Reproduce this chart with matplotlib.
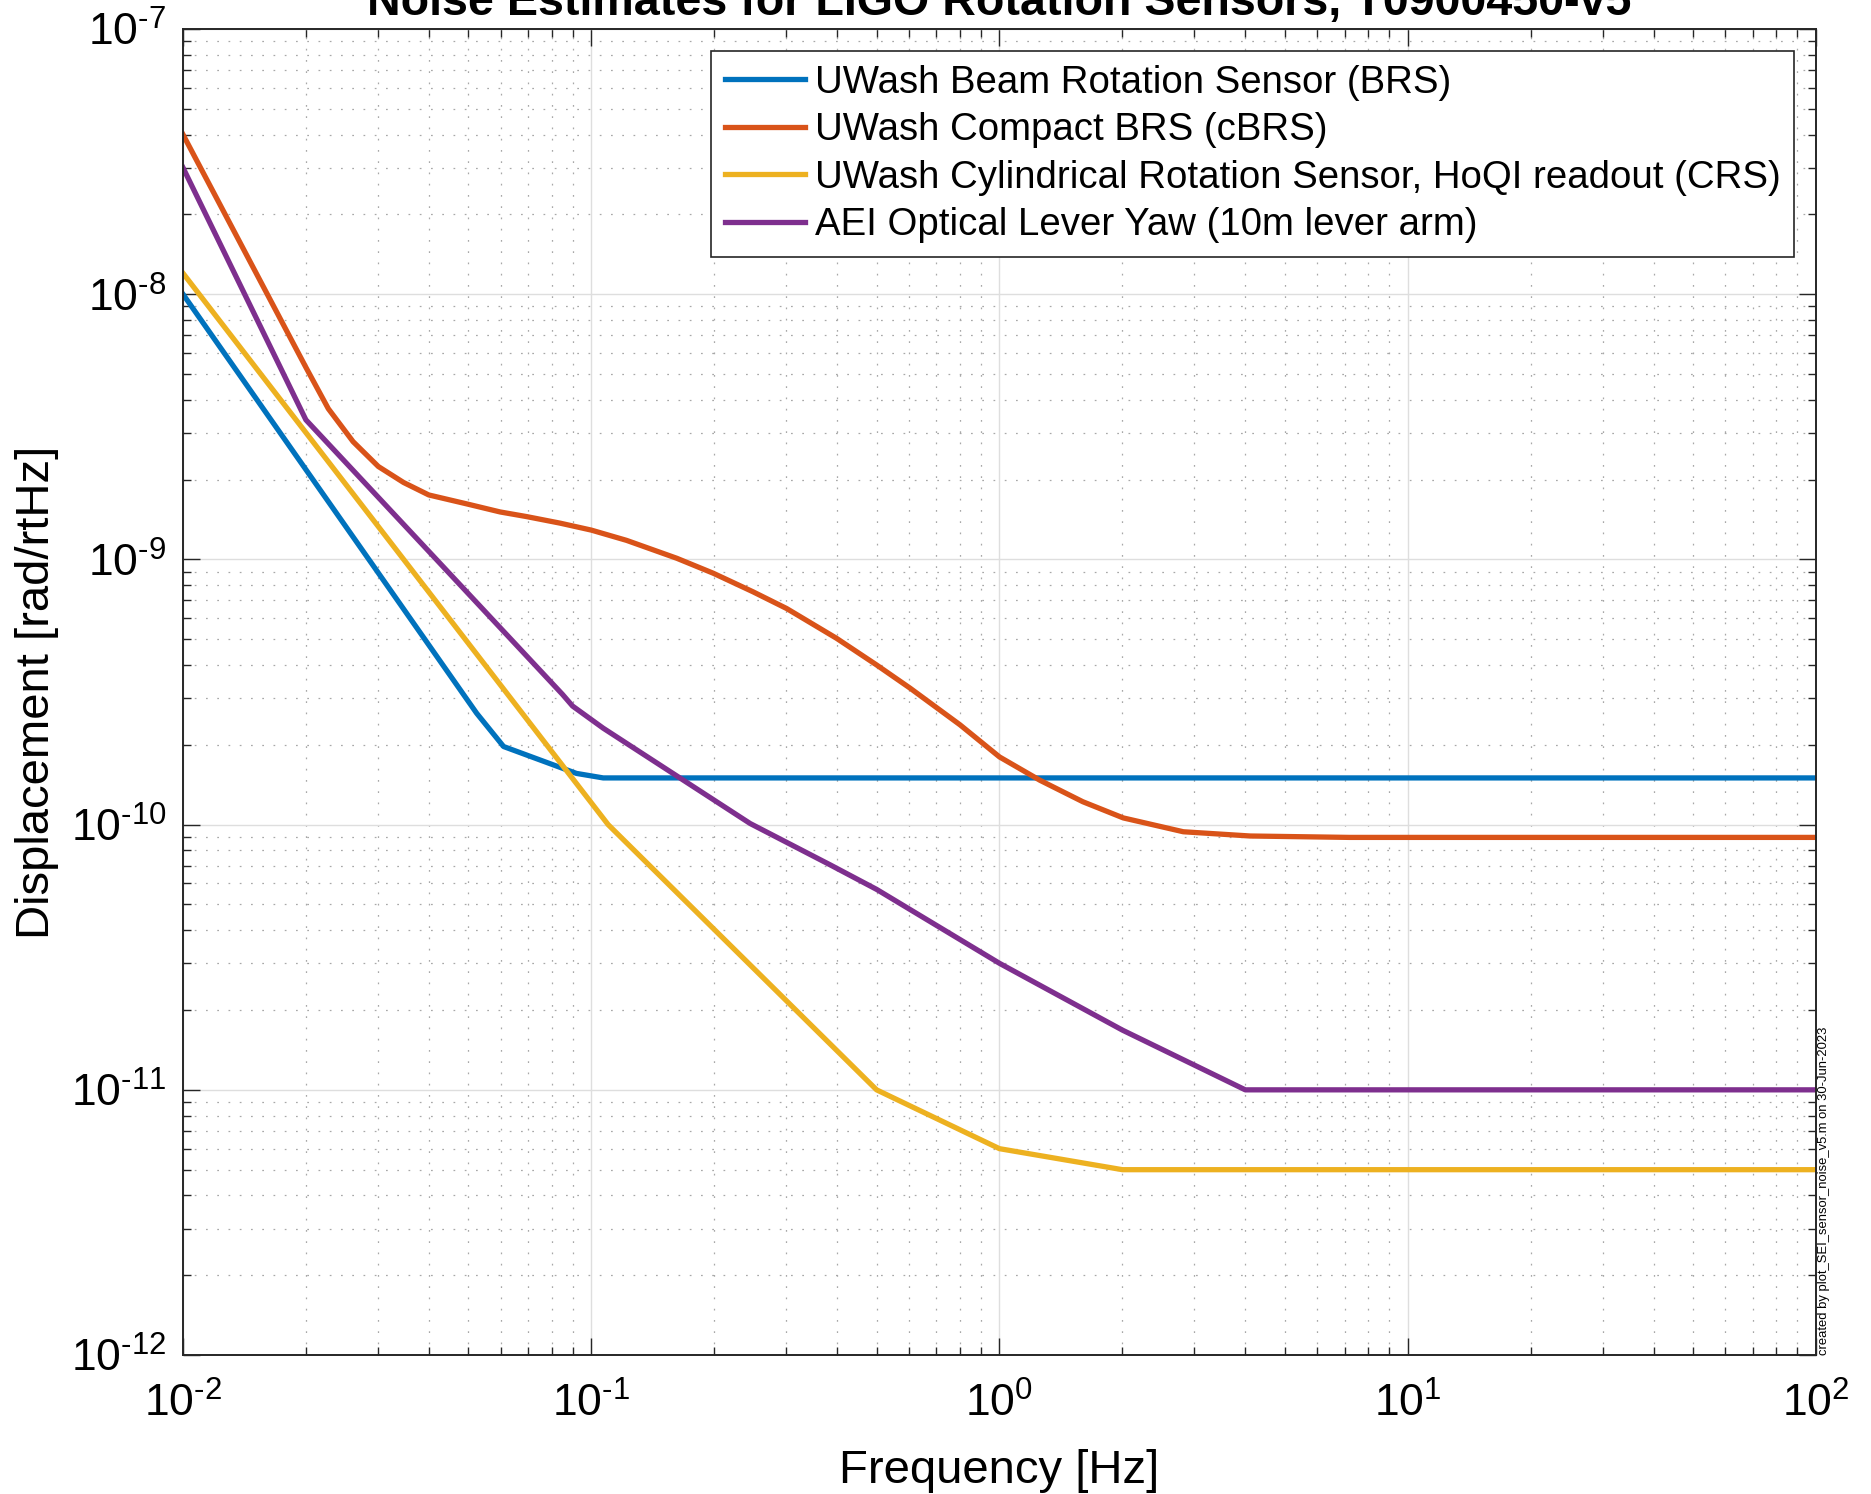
import matplotlib
matplotlib.use('Agg')
import matplotlib.pyplot as plt
import matplotlib.ticker as mticker
import numpy as np

# Data
brs_f = [0.01, 0.0524, 0.061, 0.092, 0.107, 100]
brs_n = [1.0e-8, 2.63e-10, 1.97e-10, 1.56e-10, 1.5e-10, 1.5e-10]

cbrs_f = [0.01, 0.02, 0.0227, 0.0261, 0.0301, 0.0347, 0.040, 0.0495, 0.0598, 0.0695,
          0.0839, 0.1, 0.122, 0.162, 0.199, 0.249, 0.301, 0.399, 0.5, 0.604, 0.8,
          1.0, 1.256, 1.6, 2.01, 2.82, 4.11, 7.2, 100]
cbrs_n = [4.0e-8, 5.3e-9, 3.7e-9, 2.78e-9, 2.24e-9, 1.95e-9, 1.75e-9, 1.62e-9, 1.51e-9,
          1.45e-9, 1.37e-9, 1.29e-9, 1.18e-9, 1.01e-9, 8.87e-10, 7.55e-10, 6.53e-10,
          5.04e-10, 4.0e-10, 3.27e-10, 2.38e-10, 1.8e-10, 1.47e-10, 1.22e-10, 1.06e-10,
          9.4e-11, 9.06e-11, 8.95e-11, 8.95e-11]

crs_f = [0.01, 0.11, 0.5, 1.0, 2.0, 100]
crs_n = [1.2e-8, 1.0e-10, 1.0e-11, 6.0e-12, 5.0e-12, 5.0e-12]

aei_f = [0.01, 0.02, 0.085, 0.09, 0.107, 0.245, 0.385, 0.5, 1.0, 2.0, 4.0, 100]
aei_n = [3.0e-8, 3.36e-9, 3.1e-10, 2.8e-10, 2.31e-10, 1.01e-10, 7.05e-11, 5.7e-11,
         3.0e-11, 1.68e-11, 1.0e-11, 1.0e-11]

labels = ['UWash Beam Rotation Sensor (BRS)',
          'UWash Compact BRS (cBRS)',
          'UWash Cylindrical Rotation Sensor, HoQI readout (CRS)',
          'AEI Optical Lever Yaw (10m lever arm)']
colors = ['#0072BD', '#D95319', '#EDB120', '#7E2F8E']

plt.rcParams['font.family'] = 'Liberation Sans'
plt.rcParams['mathtext.fontset'] = 'custom'
plt.rcParams['mathtext.rm'] = 'Liberation Sans'
plt.rcParams['mathtext.default'] = 'regular'
plt.rcParams['axes.unicode_minus'] = False


def pow10(v, pos):
    # MATLAB style label with a short hyphen in the exponent
    e = int(round(np.log10(v)))
    s = str(abs(e))
    if e < 0:
        s = '\u2010' + s
    return '$10^{' + s + '}$'


fig = plt.figure(figsize=(9.355, 7.47), dpi=200)
ax = fig.add_axes([0.0978, 0.0930, 0.9706 - 0.0978, 0.9806 - 0.0930])

series = [(brs_f, brs_n), (cbrs_f, cbrs_n), (crs_f, crs_n), (aei_f, aei_n)]
for (f, n), lab, c in zip(series, labels, colors):
    ax.loglog(f, n, color=c, lw=1.9, label=lab, solid_joinstyle='round')

ax.set_xlim(1e-2, 1e2)
ax.set_ylim(1e-12, 1e-7)
for axis in (ax.xaxis, ax.yaxis):
    axis.set_major_locator(mticker.LogLocator(base=10, numticks=10))
    axis.set_minor_locator(mticker.LogLocator(base=10, subs=np.arange(2, 10), numticks=20))
    axis.set_major_formatter(mticker.FuncFormatter(pow10))
    axis.set_minor_formatter(mticker.NullFormatter())

# MATLAB-like grid
ax.grid(which='major', color='#dedede', linestyle='-', linewidth=0.5)
ax.grid(which='minor', color='#a8a8a8', linestyle=(0, (1.4, 7.6)), linewidth=0.45)
ax.set_axisbelow(True)

for s in ax.spines.values():
    s.set_color('#262626')
    s.set_linewidth(0.7)
ax.tick_params(which='both', direction='in', top=True, right=True, color='#262626', width=0.5)
ax.tick_params(which='major', length=6, labelsize=16)
ax.tick_params(which='minor', length=3)
ax.tick_params(axis='x', which='major', pad=10)
ax.tick_params(axis='y', which='major', pad=6)

ax.set_xlabel('Frequency [Hz]', fontsize=17)
ax.set_ylabel('Displacement [rad/rtHz]', fontsize=17)
ax.xaxis.set_label_coords(0.5, -0.071)
ax.yaxis.set_label_coords(-0.076, 0.5)
ax.set_title('Noise Estimates for LIGO Rotation Sensors, T0900450-v5',
             fontsize=16.8, fontweight='bold', pad=5)

leg = ax.legend(loc='upper right', fontsize=13.8, fancybox=False, framealpha=1,
                edgecolor='#262626', borderaxespad=0.58, handlelength=2.1,
                handletextpad=0.25, labelspacing=0.3, borderpad=0.35)
leg.get_frame().set_linewidth(0.6)

fig.text(0.9715, 0.0930, 'created by plot_SEI_sensor_noise_v5.m on 30-Jun-2023',
         rotation=90, fontsize=4.7, ha='left', va='bottom')

fig.savefig('out.png', dpi=200)
